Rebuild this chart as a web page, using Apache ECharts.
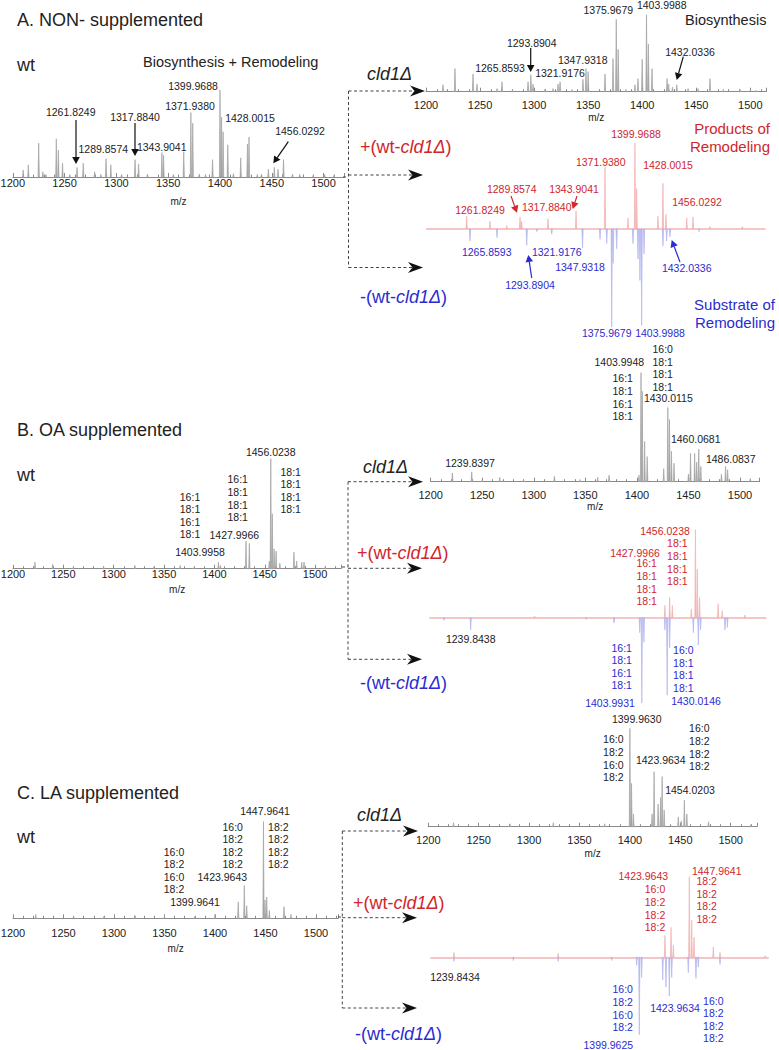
<!DOCTYPE html>
<html>
<head>
<meta charset="utf-8">
<script src="https://cdn.jsdelivr.net/npm/echarts@6/dist/echarts.min.js"></script>
<style>
  html, body { margin: 0; padding: 0; background: #fff; }
  #main { width: 779px; height: 1050px; }
</style>
</head>
<body>
<div id="main"></div>
<script>
// m/z axis ticks
const tickStart = 1200, tickStep = 50;

// ---- A. NON- supplemented  [m/z, relative intensity] ----
const wtA = [[1210,8],[1215,14],[1225,39],[1229,6],[1232,3],[1242,44],[1244,31],[1248,16],[1255,3],
  [1262,11],[1268,16],[1279,6],[1285,3],[1290,21],[1294.6,14],[1305,3],[1318,20],[1321.4,15],[1330,3],
  [1343.9,28],[1345.5,25],[1355,3],[1365,29],[1371.9,74],[1373.7,62],[1380,3],[1386,3],[1392.8,20],
  [1400,100],[1401.5,69],[1403,52],[1407.5,37],[1413,4],[1420,22],[1426.5,38],[1428,46],[1436,3],
  [1440,3],[1446.7,9],[1452.4,11],[1456,9],[1461.3,20],[1470,3],[1477,3],[1490,2],[1501,3],[1510,2]];
const cldA = [[1215.7,9],[1226.8,30],[1243.5,23],[1247.2,10],[1265.7,4],[1270.3,13],[1280,3],
  [1294.4,13],[1297,22],[1299,10],[1310,3],[1317.5,4],[1322.1,10],[1324,13],[1335,3],[1345.2,16],
  [1348,30],[1350,26],[1365.6,23],[1373,43],[1376,94],[1377.8,55],[1385,3],[1393.3,9],[1396.1,17],
  [1400,42],[1404,100],[1405.7,62],[1409.1,30],[1423,17],[1424.5,10],[1428,6],[1432,9],[1442.4,4],
  [1451.6,4],[1462.7,17],[1475,3],[1490.5,3],[1505,2]];
const diffAPos = [[1245,15],[1266.6,9],[1282,4],[1294.4,14],[1295.9,9],[1320.3,12],[1346.2,21],
  [1373,72],[1394.3,13],[1400.7,100],[1402.3,47],[1422,15],[1426.6,53],[1429.4,17],[1448.6,13],
  [1454.4,14],[1470,3],[1500,3]];
const diffANeg = [[1248.1,-14],[1273.1,-10],[1300.6,-19],[1310,-3],[1323.7,-6],[1352.2,-22],
  [1368.4,-12],[1374.6,-17],[1379.2,-114],[1380.5,-40],[1383.8,-23],[1398.9,-17],[1403.5,-35],
  [1405.3,-60],[1406.9,-112],[1409.1,-29],[1426.6,-20],[1430,-14],[1433.1,-9],[1460,-3]];

// ---- B. OA supplemented ----
const wtB = [[1221.8,6],[1239.4,4],[1260,2],[1290,2],[1321,3],[1340,2],[1366,3],[1380,2],[1404,6],
  [1406,3],[1431.4,25],[1434.7,23],[1454.5,7],[1456,100],[1457.5,50],[1459.3,18],[1461.3,16],
  [1465,5],[1479,15],[1481.7,7],[1486.7,6],[1489,6],[1510,2]];
const cldB = [[1221,8],[1239.8,9],[1250,2],[1267,4],[1290,2],[1320,5],[1345,2],[1362,4],[1373,6],
  [1402,6],[1404,100],[1405.2,83],[1407.5,37],[1410,23],[1426,12],[1430,68],[1431.6,57],[1433.5,28],
  [1436,17],[1450,7],[1452,26],[1456,26],[1458,18],[1460,30],[1462,14],[1482,7],[1486,14],[1488,11],
  [1510,3]];
const diffBPos = [[1300,2],[1426.4,14],[1431,23],[1433.6,14],[1452,10],[1456,100],[1457.8,55],
  [1460,23],[1478,16],[1482,8],[1504,3]];
const diffBNeg = [[1212,-3],[1238,-14],[1350,-2],[1377,-6],[1402,-17],[1404,-97],[1406,-28],
  [1426.4,-14],[1428.6,-88],[1431,-34],[1454,-17],[1458.8,-31],[1461,-14],[1484.7,-14],[1487,-11]];

// ---- C. LA supplemented ----
const wtC = [[1222.5,4],[1260,2],[1290,2],[1320.8,3],[1350,2],[1380,2],[1400,4],[1423,17],[1429,34],
  [1431.4,13],[1448,100],[1449.5,19],[1451.2,22],[1453.8,8],[1468.3,12],[1475.2,4]];
const cldC = [[1225,4],[1281,3],[1324,4],[1375,3],[1400,100],[1401.6,44],[1403.5,13],[1422,13],
  [1424,56],[1428,23],[1430.5,30],[1432,51],[1434,17],[1448,10],[1451,6],[1454,27],[1456.5,13],
  [1478,5],[1520,2]];
const diffCPos = [[1216.8,6],[1320,5],[1425.7,27],[1431.7,37],[1434,15],[1449.8,100],[1452.2,46],
  [1454.5,25],[1473.6,13],[1480.2,6],[1525,2]];
const diffCNeg = [[1216.8,-5],[1275.5,-4],[1320,-5],[1373,-4],[1397.7,-10],[1400.3,-96],[1402.6,-25],
  [1423.5,-28],[1426.7,-37],[1430,-48],[1432.4,-25],[1448.8,-19],[1456.4,-26],[1458.7,-12],[1480.2,-9]];

const FONT = '"Liberation Sans", Arial, Helvetica, sans-serif';
const GREY = '#a4a4a4', PINK = '#f2b3b3', LILAC = '#b4b8ee';
const RED = '#d0262c', BLUE = '#2b2bd0', INK = '#222';

const grids = [], xAxes = [], yAxes = [], series = [];

function peakShape(color) {
  return function (params, api) {
    var mz = api.value(0), v = api.value(1);
    var a = api.coord([mz - 0.6, 0]), b = api.coord([mz, v]), c = api.coord([mz + 0.6, 0]);
    return { type: 'polygon', shape: { points: [a, b, c] },
      style: { fill: color, stroke: color, lineWidth: 0.7 } };
  };
}

// one spectrum panel; x0 = pixel of m/z 1200, ppu = pixels per m/z unit
function addPanel(p) {
  var i = grids.length, down = p.down || 0;
  grids.push({ left: p.x0 + (p.min - 1200) * p.ppu, width: (p.max - p.min) * p.ppu,
    top: p.base - p.up, height: p.up + down, outerBoundsMode: 'none' });
  if (p.axis) {
    xAxes.push({ gridIndex: i, type: 'value', min: p.min, max: p.max, interval: tickStep,
      axisLine: { show: true, onZero: false, lineStyle: { color: '#8a8a8a', width: 1 } },
      axisTick: { show: true, inside: true, length: 4, lineStyle: { color: '#8a8a8a' } },
      minorTick: { show: true, splitNumber: 5, length: 2.5, lineStyle: { color: '#8a8a8a' } },
      splitLine: { show: false }, minorSplitLine: { show: false },
      axisLabel: { margin: p.margin, fontSize: 11, color: INK, fontFamily: FONT, showMaxLabel: false,
        formatter: function (v) { return String(v); } },
      name: 'm/z', nameLocation: 'middle', nameGap: p.nameGap,
      nameTextStyle: { fontSize: 10, color: INK, fontFamily: FONT } });
  } else {
    xAxes.push({ gridIndex: i, type: 'value', min: p.min, max: p.max,
      axisLine: { show: true, onZero: true, lineStyle: { color: PINK, width: 1.5 } },
      axisTick: { show: false }, axisLabel: { show: false }, splitLine: { show: false } });
  }
  yAxes.push({ gridIndex: i, type: 'value', min: p.ymin || 0, max: 100, show: false });
  p.sets.forEach(function (s) {
    series.push({ type: 'custom', xAxisIndex: i, yAxisIndex: i, data: s[0],
      renderItem: peakShape(s[1]), silent: true });
  });
}

addPanel({ sets: [[wtA, GREY]], min: tickStart, max: 1520, x0: 12.8, ppu: 1.036, base: 177, up: 87, axis: true, margin: 0, nameGap: 19 });
addPanel({ sets: [[cldA, GREY]], min: tickStart, max: 1515, x0: 426, ppu: 1.081, base: 91.7, up: 77, axis: true, margin: 8, nameGap: 21 });
addPanel({ sets: [[diffAPos, PINK], [diffANeg, LILAC]], min: 1208, max: 1521, x0: 418, ppu: 1.081, base: 229, up: 86, down: 98, ymin: -114 });

addPanel({ sets: [[wtB, GREY]], min: tickStart, max: 1526, x0: 13, ppu: 1.007, base: 568.7, up: 110, axis: true, margin: 0, nameGap: 16 });
addPanel({ sets: [[cldB, GREY]], min: tickStart, max: 1519, x0: 430.7, ppu: 1.031, base: 481.7, up: 109, axis: true, margin: 8, nameGap: 20 });
addPanel({ sets: [[diffBPos, PINK], [diffBNeg, LILAC]], min: 1198.5, max: 1524.4, x0: 431.5, ppu: 1.031, base: 617.7, up: 88, down: 86, ymin: -97.7 });

addPanel({ sets: [[wtC, GREY]], min: tickStart, max: 1522, x0: 13, ppu: 1.01, base: 918.3, up: 96.7, axis: true, margin: 9, nameGap: 25 });
addPanel({ sets: [[cldC, GREY]], min: tickStart, max: 1526, x0: 428.3, ppu: 1.008, base: 826.7, up: 98.3, axis: true, margin: 8, nameGap: 22 });
addPanel({ sets: [[diffCPos, PINK], [diffCNeg, LILAC]], min: 1194, max: 1528, x0: 437, ppu: 1.01, base: 957.3, up: 80.7, down: 77.7, ymin: -96.3 });

// ---------- annotations ----------
const g = [];
function T(x, y, s, color, size, align) {
  g.push({ type: 'text', x: x, y: y, z: 10, silent: true,
    style: { text: s, fill: color || INK, fontSize: size || 10.5, fontFamily: FONT,
      align: align || 'center', verticalAlign: 'middle' } });
}
function stack(x, yFirst, s, color) {
  g.push({ type: 'text', x: x, y: yFirst - 6.3, z: 10, silent: true,
    style: { text: s, fill: color || INK, fontSize: 10.5, fontFamily: FONT, lineHeight: 12.6,
      align: 'center', verticalAlign: 'top' } });
}
function big(x, y, s, color) {
  g.push({ type: 'text', x: x, y: y, z: 10, silent: true,
    style: { text: s, fill: color || INK, fontSize: 18, fontFamily: FONT, align: 'left', verticalAlign: 'middle' } });
}
function sample(x, y, sign, color) {
  g.push({ type: 'text', x: x, y: y, z: 10, silent: true,
    style: { text: sign + '(wt-{i|cld1Δ})', fill: color, fontSize: 18, fontFamily: FONT,
      align: 'left', verticalAlign: 'middle',
      rich: { i: { fill: color, fontSize: 18, fontFamily: FONT, fontStyle: 'italic' } } } });
}
function cld(x, y) {
  g.push({ type: 'text', x: x, y: y, z: 10, silent: true,
    style: { text: 'cld1Δ', fill: INK, fontSize: 18, fontFamily: FONT, fontStyle: 'italic',
      align: 'left', verticalAlign: 'middle' } });
}
function arrow(x1, y1, x2, y2, color) {
  var dx = x2 - x1, dy = y2 - y1, len = Math.sqrt(dx * dx + dy * dy);
  var ux = dx / len, uy = dy / len, hl = 7, hw = 3.8;
  var bx = x2 - ux * hl, by = y2 - uy * hl;
  g.push({ type: 'line', z: 10, silent: true, shape: { x1: x1, y1: y1, x2: bx, y2: by },
    style: { stroke: color, lineWidth: 1.2 } });
  g.push({ type: 'polygon', z: 10, silent: true,
    shape: { points: [[x2, y2], [bx - uy * hw, by + ux * hw], [bx + uy * hw, by - ux * hw]] },
    style: { fill: color } });
}
function connector(x, ys, tips, stubY, stubX) {
  var dash = { stroke: '#444', lineWidth: 1, lineDash: [3, 2.5] };
  g.push({ type: 'line', z: 9, silent: true, shape: { x1: x, y1: ys[0], x2: x, y2: ys[2] }, style: dash });
  g.push({ type: 'line', z: 9, silent: true, shape: { x1: stubX, y1: stubY, x2: x, y2: stubY }, style: dash });
  ys.forEach(function (y, k) {
    var t = tips[k];
    g.push({ type: 'line', z: 9, silent: true, shape: { x1: x, y1: y, x2: t - 11, y2: y }, style: dash });
    g.push({ type: 'polygon', z: 10, silent: true,
      shape: { points: [[t, y], [t - 15, y - 5.5], [t - 10.5, y], [t - 15, y + 5.5]] },
      style: { fill: '#111' } });
  });
}

// A
big(17, 20, 'A. NON- supplemented');
big(17, 65, 'wt');
T(143, 61.7, 'Biosynthesis + Remodeling', INK, 14.5, 'left');
T(685, 20, 'Biosynthesis', INK, 14.5, 'left');
cld(367, 74);
sample(360, 146.7, '+', RED);
sample(360, 296.7, '-', BLUE);
T(770, 128.3, 'Products of', RED, 15, 'right');
T(770, 146.7, 'Remodeling', RED, 15, 'right');
T(775, 304, 'Substrate of', BLUE, 15, 'right');
T(775, 322.7, 'Remodeling', BLUE, 15, 'right');
T(193, 86, '1399.9688'); T(190, 106, '1371.9380'); T(250, 118, '1428.0015'); T(300, 130.7, '1456.0292');
T(70.7, 111.7, '1261.8249'); T(135, 116.7, '1317.8840'); T(103.3, 149, '1289.8574'); T(161.7, 146.7, '1343.9041');
arrow(76, 120, 76, 164, '#111'); arrow(135, 123, 135, 156, '#111'); arrow(288.3, 141.7, 273.3, 163.3, '#111');
T(608.3, 10, '1375.9679'); T(661.7, 5, '1403.9988'); T(531.7, 42.7, '1293.8904'); T(500, 68.3, '1265.8593');
T(560, 73.3, '1321.9176'); T(582.7, 60, '1347.9318'); T(690, 51.7, '1432.0336');
arrow(530.7, 48, 530.7, 72, '#111'); arrow(683.3, 56.7, 676.7, 80, '#111');
T(636, 134, '1399.9688', RED); T(600.7, 161.7, '1371.9380', RED); T(668, 165, '1428.0015', RED);
T(511.7, 189, '1289.8574', RED); T(574, 189, '1343.9041', RED); T(480, 210, '1261.8249', RED);
T(546.7, 207.3, '1317.8840', RED); T(697, 201.7, '1456.0292', RED);
arrow(511, 196, 517, 212.7, RED); arrow(577, 196, 572.7, 209, RED);
T(486.7, 251.7, '1265.8593', BLUE); T(556.7, 251.7, '1321.9176', BLUE); T(530, 285, '1293.8904', BLUE);
T(580, 267.3, '1347.9318', BLUE); T(686.7, 268.3, '1432.0336', BLUE);
T(606.7, 332.7, '1375.9679', BLUE); T(660, 332.7, '1403.9988', BLUE);
arrow(531.7, 278, 528.3, 255, BLUE); arrow(680, 262, 671.7, 240, BLUE);
connector(348.5, [91, 175, 267.5], [425, 423, 423], 177, 343);

// B
big(17, 430, 'B. OA supplemented');
big(17, 475, 'wt');
cld(363, 466.7);
sample(357, 553.3, '+', RED);
sample(360, 683.3, '-', BLUE);
T(270.7, 451.7, '1456.0238'); T(234.3, 535, '1427.9966'); T(200, 551.7, '1403.9958');
stack(290.7, 471.7, '18:1\n18:1\n18:1\n18:1');
stack(237.7, 479.3, '16:1\n18:1\n18:1\n18:1');
stack(190, 496.7, '16:1\n18:1\n16:1\n18:1');
T(619.3, 361.7, '1403.9948'); T(668.3, 398.3, '1430.0115'); T(695.7, 439.3, '1460.0681');
T(730.7, 459.3, '1486.0837'); T(470, 463.3, '1239.8397');
stack(662.7, 349, '16:0\n18:1\n18:1\n18:1');
stack(622.7, 378.3, '16:1\n18:1\n16:1\n18:1');
T(665, 530.7, '1456.0238', RED); T(635, 552.7, '1427.9966', RED);
stack(677.3, 543.3, '18:1\n18:1\n18:1\n18:1', RED);
stack(646.7, 563.3, '16:1\n18:1\n18:1\n18:1', RED);
T(470.7, 639.3, '1239.8438');
stack(621.7, 647.7, '16:1\n18:1\n16:1\n18:1', BLUE);
stack(683.3, 650, '16:0\n18:1\n18:1\n18:1', BLUE);
T(610, 702.7, '1403.9931', BLUE); T(696, 700.7, '1430.0146', BLUE);
connector(348, [481.7, 568.3, 659.3], [423, 422, 422], 567, 342);

// C
big(17, 793, 'C. LA supplemented');
big(17, 836.7, 'wt');
cld(357, 815);
sample(353, 903.3, '+', RED);
sample(355, 1034, '-', BLUE);
T(265, 811, '1447.9641'); T(222.3, 876.7, '1423.9643'); T(195, 901.7, '1399.9641');
stack(278.3, 826.7, '18:2\n18:2\n18:2\n18:2');
stack(232.7, 826.7, '16:0\n18:2\n18:2\n18:2');
stack(174, 851.7, '16:0\n18:2\n16:0\n18:2');
T(636.7, 719.3, '1399.9630'); T(660.7, 760, '1423.9634'); T(690, 790, '1454.0203');
stack(613.3, 739.3, '16:0\n18:2\n16:0\n18:2');
stack(699.3, 728.3, '16:0\n18:2\n18:2\n18:2');
T(643.3, 876, '1423.9643', RED); T(716.7, 870.7, '1447.9641', RED);
stack(655, 889.3, '16:0\n18:2\n18:2\n18:2', RED);
stack(706.7, 881, '18:2\n18:2\n18:2\n18:2', RED);
T(455, 977.3, '1239.8434');
stack(622.7, 989.3, '16:0\n18:2\n16:0\n18:2', BLUE);
stack(713.3, 1000.7, '16:0\n18:2\n18:2\n18:2', BLUE);
T(608.3, 1045, '1399.9625', BLUE); T(675, 1008.3, '1423.9634', BLUE);
connector(342.3, [831, 917.7, 1008], [418, 417, 417], 917, 338);

const chart = echarts.init(document.getElementById('main'), null, { renderer: 'svg' });
chart.setOption({
  animation: false,
  backgroundColor: '#fff',
  grid: grids,
  xAxis: xAxes,
  yAxis: yAxes,
  series: series,
  graphic: { elements: g }
});
</script>
</body>
</html>
